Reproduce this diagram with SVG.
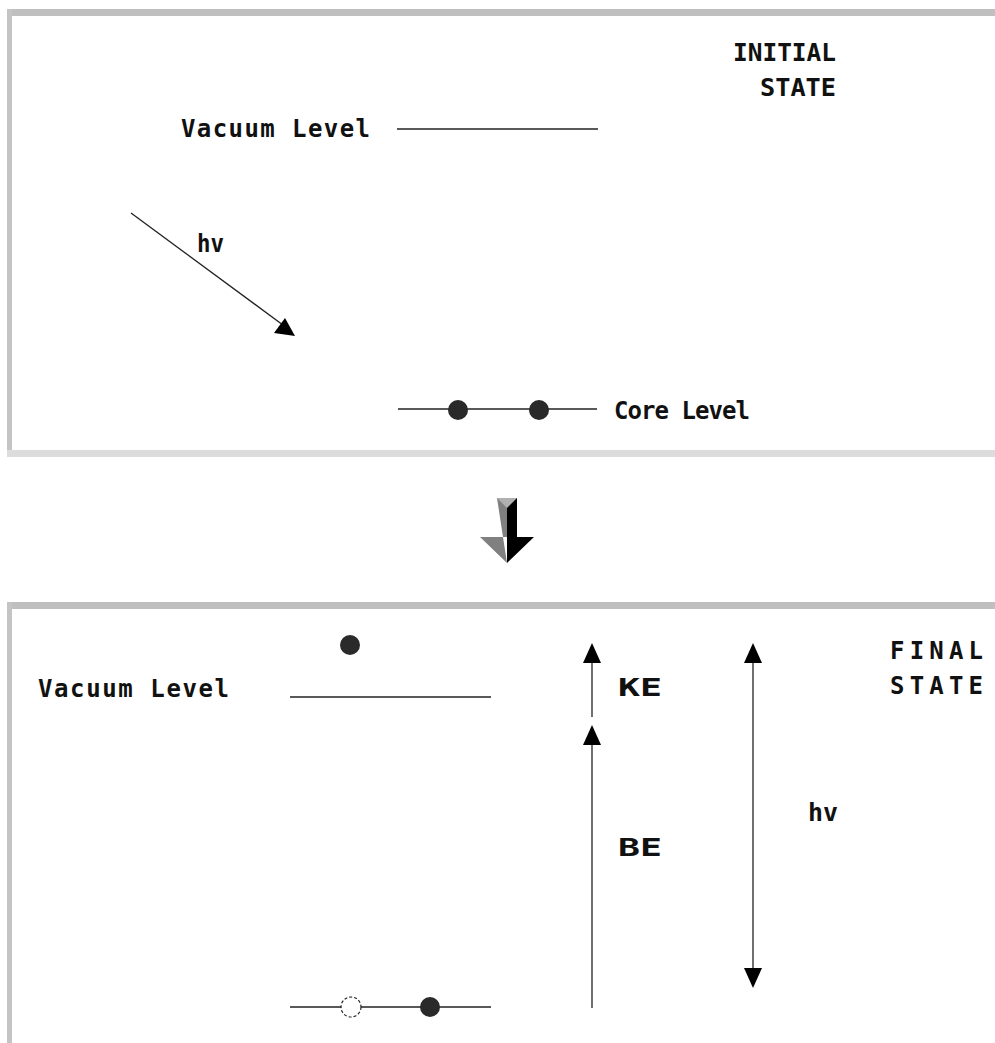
<svg xmlns="http://www.w3.org/2000/svg" width="995" height="1043" viewBox="0 0 995 1043">
<style>
.t{font-family:"DejaVu Sans Mono","Liberation Mono",monospace;font-size:24px;font-weight:bold;fill:#111;}
.ln{stroke:#222;stroke-width:1.3;fill:none;}
.dot{fill:#2a2a2a;}
</style>
<defs>
<marker id="ah" markerWidth="20" markerHeight="18" refX="18" refY="9" orient="auto-start-reverse" markerUnits="userSpaceOnUse" viewBox="0 0 20 18">
<path d="M0,0 L20,9 L0,18 Z" fill="#000"/>
</marker>
</defs>
<rect width="995" height="1043" fill="#fff"/>
<g id="panel-initial">
<rect x="7" y="9" width="988" height="7" fill="#bfbfbf"/>
<rect x="7" y="9" width="5" height="448" fill="#c4c4c4"/>
<rect x="7" y="450" width="988" height="7" fill="#dcdcdc"/>
</g>
<g id="panel-final">
<rect x="7" y="602" width="988" height="7" fill="#bfbfbf"/>
<rect x="7" y="602" width="5" height="441" fill="#c4c4c4"/>
</g>
<g id="initial-label">
<text class="t" x="733" y="61" textLength="103" lengthAdjust="spacingAndGlyphs">INITIAL</text>
<text class="t" x="760" y="96" textLength="76" lengthAdjust="spacingAndGlyphs">STATE</text>
</g>
<g id="vacuum-initial">
<text class="t" x="181" y="137" textLength="189" lengthAdjust="spacing">Vacuum Level</text>
<line class="ln" x1="397" y1="129" x2="598" y2="129"/>
</g>
<g id="core-initial">
<line class="ln" x1="398" y1="409" x2="597" y2="409"/>
<circle class="dot" cx="458" cy="410" r="10"/>
<circle class="dot" cx="539" cy="410" r="10"/>
<text class="t" x="614" y="419" textLength="136" lengthAdjust="spacing">Core Level</text>
</g>
<g id="photon-in">
<text class="t" x="197" y="252" textLength="27" lengthAdjust="spacingAndGlyphs">hv</text>
</g>
<g id="transition-arrow">
<polygon points="497,498 507,498 507,537 480,537 507,563" fill="#808080"/>
<polygon points="507,498 517,498 517,537 534,537 507,563" fill="#000"/>
<polygon points="497,498 517,498 507,508" fill="#b0b0b0"/>
</g>
<g id="final-label">
<text class="t" x="890" y="659" textLength="93" lengthAdjust="spacing">FINAL</text>
<text class="t" x="890" y="694" textLength="93" lengthAdjust="spacing">STATE</text>
</g>
<g id="electron-out">
<circle class="dot" cx="350" cy="645" r="10"/>
</g>
<g id="vacuum-final">
<text class="t" x="38" y="697" textLength="191" lengthAdjust="spacing">Vacuum Level</text>
<line class="ln" x1="290" y1="697" x2="491" y2="697"/>
</g>
<g id="core-final">
<line class="ln" x1="290" y1="1007" x2="491" y2="1007"/>
<circle cx="351" cy="1007" r="10" fill="#fff" stroke="#222" stroke-width="1.2" stroke-dasharray="3,2"/>
<circle class="dot" cx="430" cy="1007" r="10"/>
</g>
<g id="labels-final">
<text class="t" x="618" y="696" textLength="44" lengthAdjust="spacingAndGlyphs">KE</text>
<text class="t" x="618" y="856" textLength="44" lengthAdjust="spacingAndGlyphs">BE</text>
<text class="t" x="808" y="821" textLength="30" lengthAdjust="spacingAndGlyphs">hv</text>
</g>
<g id="connectors">
<line class="ln" x1="131" y1="213" x2="287" y2="328" stroke-width="1"/>
<polygon points="295,336 274,333 285,318" fill="#000"/>
<line class="ln" x1="592" y1="717" x2="592" y2="645" marker-end="url(#ah)"/>
<line class="ln" x1="592" y1="1008" x2="592" y2="727" marker-end="url(#ah)"/>
<line class="ln" x1="753" y1="986" x2="753" y2="645" marker-start="url(#ah)" marker-end="url(#ah)"/>
</g>
</svg>
